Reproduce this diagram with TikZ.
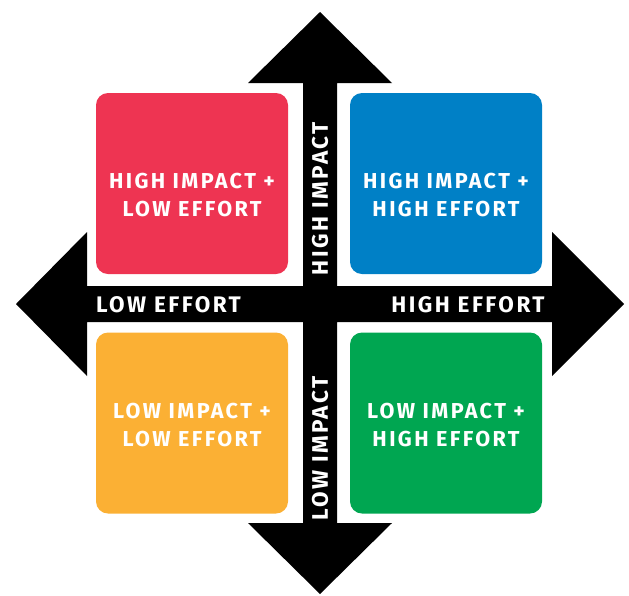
\documentclass[tikz,border=0pt]{standalone}
\usepackage{fontspec}
\newfontfamily\quadfont{Fira Sans}[LetterSpace=11]
\definecolor{hilored}{HTML}{EE3452}
\definecolor{hihiblue}{HTML}{0080C6}
\definecolor{loloyellow}{HTML}{FBB034}
\definecolor{lohigreen}{HTML}{00A651}

\tikzset{every picture/.style={line width=0.75pt}}

\begin{document}
\begin{tikzpicture}[x=1pt,y=-1pt,
	quad/.style={rounded corners=12pt,minimum width=192pt,minimum height=181pt,inner sep=0pt},
	quadtext/.style={text=white,align=center,inner sep=0pt,font=\quadfont\bfseries\fontsize{21.6}{28.5}\selectfont},
	axislabel/.style={text=white,inner sep=0pt,font=\quadfont\bfseries\fontsize{22.5}{26}\selectfont}]
	\useasboundingbox (0,0) rectangle (629,595);
	%Tam
	\coordinate (centre) at (320,304);
	%Mui ten
	\fill (303,83)--(248,83)--(320,12)--(392,83)--(337,83)--(337,286)--(552,286)--(552,232)--(624,304)--(552,376)--(552,322)--(337,322)--(337,523)--(392,523)--(320,594)--(248,523)--(303,523)--(303,322)--(87,322)--(87,376)--(16,304)--(87,232)--(87,286)--(303,286)--cycle;
	%Khung 1
	\node[quad,fill=hilored] (hilo) at (192,183.5) {};
	\node[quadtext] (hilotext) at (192,195) {HIGH IMPACT +\\LOW EFFORT};
	%Khung 2
	\node[quad,fill=hihiblue] (hihi) at (446,183.5) {};
	\node[quadtext] (hihitext) at (446,195) {HIGH IMPACT +\\HIGH EFFORT};
	%Khung 3
	\node[quad,fill=loloyellow] (lolo) at (192,423) {};
	\node[quadtext] (lolotext) at (192,425) {LOW IMPACT +\\LOW EFFORT};
	%Khung 4
	\node[quad,fill=lohigreen] (lohi) at (446,423) {};
	\node[quadtext] (lohitext) at (446,425) {LOW IMPACT +\\HIGH EFFORT};
	%Truc
	\node[axislabel] (loweffort) at (168.5,305) {LOW EFFORT};
	\node[axislabel] (higheffort) at (468,305) {HIGH EFFORT};
	\node[axislabel,rotate=90] (highimpact) at (320,198.5) {HIGH IMPACT};
	\node[axislabel,rotate=90] (lowimpact) at (320,448.5) {LOW IMPACT};
\end{tikzpicture}
\end{document}
